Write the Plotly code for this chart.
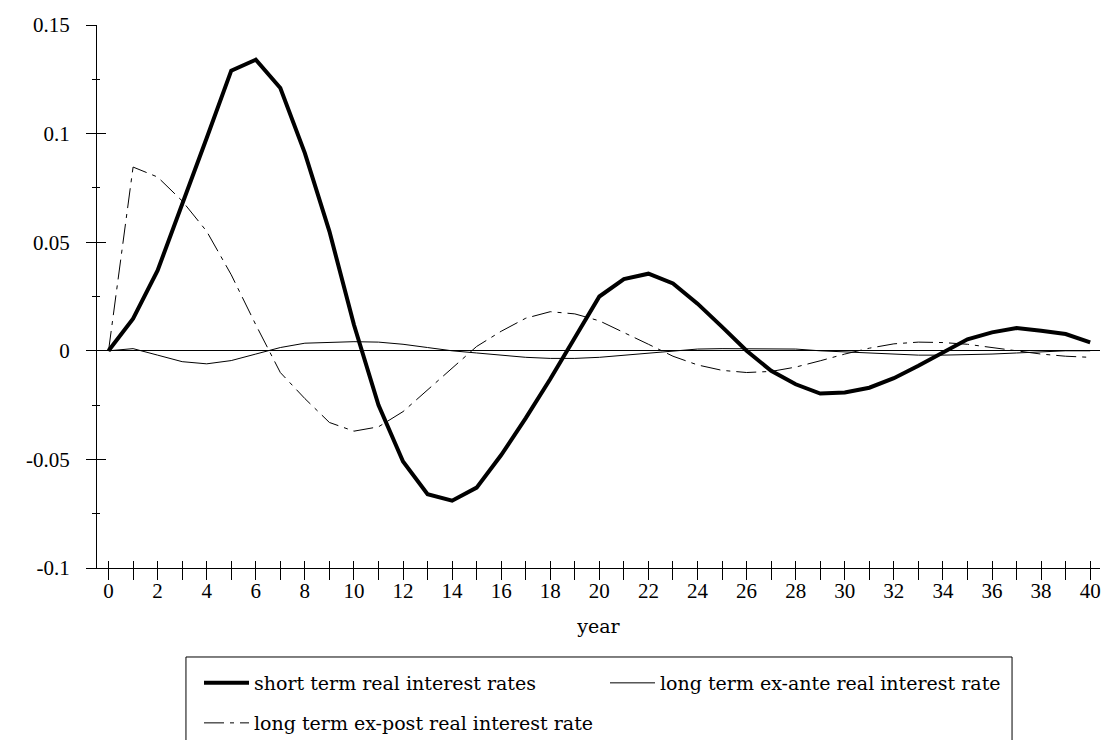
import plotly.graph_objects as go

years = list(range(0, 41))

short_term = [0.0, 0.0148, 0.037, 0.067, 0.098, 0.129, 0.134, 0.121, 0.091, 0.055,
              0.012, -0.025, -0.051, -0.066, -0.069, -0.063, -0.048, -0.031, -0.013, 0.006,
              0.025, 0.033, 0.0355, 0.031, 0.0217, 0.011, 0.0, -0.0092, -0.0154, -0.0197,
              -0.0192, -0.017, -0.0126, -0.0069, -0.001, 0.0053, 0.0085, 0.0105, 0.0092, 0.0077,
              0.0039]

ex_ante = [0.0, 0.001, -0.002, -0.005, -0.006, -0.0045, -0.0015, 0.0015, 0.0035, 0.004,
           0.0042, 0.004, 0.003, 0.0015, 0.0, -0.001, -0.002, -0.003, -0.0035, -0.0035,
           -0.003, -0.002, -0.001, 0.0, 0.0008, 0.001, 0.001, 0.001, 0.0008, 0.0,
           -0.0005, -0.0012, -0.0018, -0.002, -0.002, -0.0018, -0.0015, -0.001, -0.0005, 0.0,
           0.0]

ex_post = [0.0, 0.0846, 0.080, 0.069, 0.055, 0.035, 0.012, -0.010, -0.022, -0.033,
           -0.037, -0.035, -0.028, -0.018, -0.008, 0.002, 0.009, 0.015, 0.018, 0.017,
           0.0138, 0.0085, 0.003, -0.0025, -0.0065, -0.009, -0.010, -0.0095, -0.0075, -0.0046,
           -0.0015, 0.0012, 0.0032, 0.004, 0.0038, 0.003, 0.0015, 0.0, -0.0015, -0.0025,
           -0.003]

series_names = ["short term real interest rates",
                "long term ex-ante real interest rate",
                "long term ex-post real interest rate"]

x_tickvals = list(range(0, 41))
x_ticktext = [str(v) if v % 2 == 0 else "" for v in x_tickvals]
y_tickvals = [-0.1, -0.05, 0, 0.05, 0.1, 0.15]
y_ticktext = ["-0.1", "-0.05", "0", "0.05", "0.1", "0.15"]

x_range = [-0.47, 40.4]
y_range = [-0.1, 0.15]

tick_font = dict(family="Liberation Serif", size=21, color="black")
legend_font = dict(family="DejaVu Serif", size=19, color="black")

fig = go.Figure()
fig.add_trace(go.Scatter(x=years, y=short_term, mode="lines", name=series_names[0],
                         line=dict(color="black", width=4), legend="legend"))
fig.add_trace(go.Scatter(x=years, y=ex_ante, mode="lines", name=series_names[1],
                         line=dict(color="black", width=1), legend="legend"))
fig.add_trace(go.Scatter(x=years, y=ex_post, mode="lines", name=series_names[2],
                         line=dict(color="black", width=1, dash="20px,6px,4px,6px"),
                         legend="legend2"))
# empty helper trace so the overlaid tick axes (inner half of crossing ticks) are drawn
fig.add_trace(go.Scatter(x=[], y=[], xaxis="x2", yaxis="y2", showlegend=False,
                         hoverinfo="skip"))

legend_common = dict(orientation="h", xanchor="left", yanchor="top",
                     borderwidth=0, bgcolor="rgba(0,0,0,0)", font=legend_font,
                     itemwidth=45, traceorder="normal")

fig.update_layout(
    width=1106, height=740,
    margin=dict(l=97, r=6, t=25, b=172, autoexpand=False),
    paper_bgcolor="white", plot_bgcolor="white",
    hovermode=False,
    xaxis=dict(range=x_range, showgrid=False, zeroline=False, showline=True,
               linecolor="black", linewidth=1, ticks="outside", ticklen=11,
               tickcolor="black", tickwidth=1, tickvals=x_tickvals, ticktext=x_ticktext,
               tickfont=tick_font, ticklabelstandoff=-7,
               title=dict(text="year", font=legend_font, standoff=17)),
    xaxis2=dict(range=x_range, overlaying="x", anchor="y2", showgrid=False, zeroline=False,
                showline=False, ticks="inside", ticklen=7, tickcolor="black", tickwidth=1,
                tickvals=x_tickvals, showticklabels=False),
    yaxis=dict(range=y_range, showgrid=False, zeroline=True, zerolinecolor="black",
               zerolinewidth=1, showline=True, linecolor="black", linewidth=1,
               ticks="outside", ticklen=10, tickcolor="black", tickwidth=1,
               tickvals=y_tickvals, ticktext=y_ticktext, tickfont=tick_font,
               ticklabelstandoff=12,
               minor=dict(dtick=0.025, tick0=0, ticks="outside", ticklen=4,
                          tickcolor="black", tickwidth=1, showgrid=False)),
    yaxis2=dict(range=y_range, overlaying="y", anchor="x2", side="left", showgrid=False,
                zeroline=False, showline=False, ticks="inside", ticklen=9,
                tickcolor="black", tickwidth=1, tickvals=y_tickvals, showticklabels=False,
                minor=dict(dtick=0.025, tick0=0, ticks="inside", ticklen=3,
                           tickcolor="black", tickwidth=1, showgrid=False)),
    legend=dict(x=0.1017, y=-0.1768, entrywidth=346, entrywidthmode="pixels",
                **legend_common),
    legend2=dict(x=0.1017, y=-0.2505, **legend_common),
    shapes=[dict(type="rect", xref="paper", yref="paper",
                 x0=0.0887, x1=0.9123, y0=-0.3536, y1=-0.1639,
                 line=dict(color="black", width=1), fillcolor="rgba(0,0,0,0)")],
)

fig.write_html("out.html")
